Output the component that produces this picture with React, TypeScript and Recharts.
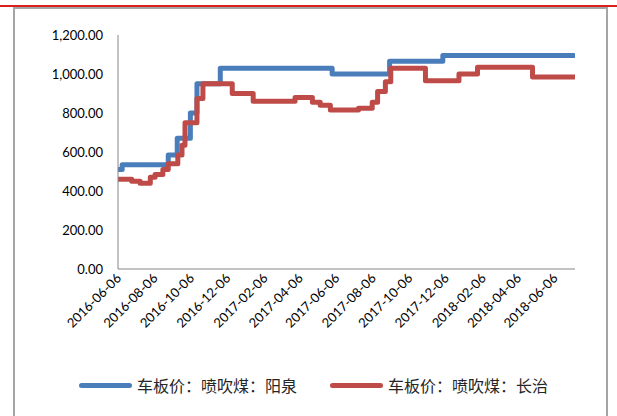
import React from "react";
import { Line, LineChart, XAxis, YAxis } from "recharts";

// 车板价：喷吹煤：阳泉 (change points, stepAfter)
const yqDates = [
  "2016-06-06", "2016-06-13", "2016-08-29", "2016-09-13", "2016-10-05", "2016-10-16",
  "2016-11-24", "2017-05-30", "2017-09-03", "2017-12-01", "2018-07-08",
];
const yqValues = [510, 535, 585, 670, 800, 950, 1030, 1000, 1065, 1095, 1095];

// 车板价：喷吹煤：长治
const czDates = [
  "2016-06-06", "2016-06-29", "2016-07-13", "2016-07-30", "2016-08-07", "2016-08-20",
  "2016-08-29", "2016-09-14", "2016-09-21", "2016-09-26", "2016-10-16", "2016-10-26",
  "2016-12-14", "2017-01-18", "2017-03-29", "2017-04-27", "2017-05-10", "2017-05-27",
  "2017-07-13", "2017-08-05", "2017-08-14", "2017-08-27", "2017-09-05", "2017-11-02",
  "2017-12-28", "2018-01-28", "2018-04-30", "2018-07-08",
];
const czValues = [
  460, 450, 440, 470, 485, 510, 540, 585, 635, 750, 875, 950, 900, 860, 880, 855, 840,
  815, 825, 855, 910, 960, 1030, 965, 1000, 1035, 985, 985,
];

const xTicks = [
  "2016-06-06", "2016-08-06", "2016-10-06", "2016-12-06", "2017-02-06", "2017-04-06",
  "2017-06-06", "2017-08-06", "2017-10-06", "2017-12-06", "2018-02-06", "2018-04-06",
  "2018-06-06",
];
const yTicks = [0, 200, 400, 600, 800, 1000, 1200];

const seriesNames = ["车板价：喷吹煤：阳泉", "车板价：喷吹煤：长治"];
const colors = ["#4a7ebb", "#be4b48"];

const toTime = (d: string) => Date.parse(d + "T00:00:00Z");
const fmtDate = (t: number) => new Date(t).toISOString().slice(0, 10);

const yqData = yqDates.map((d, i) => ({ t: toTime(d), v: yqValues[i] }));
const czData = czDates.map((d, i) => ({ t: toTime(d), v: czValues[i] }));

const font = "Lato, 'Open Sans', sans-serif";

const XTick = ({ x, y, payload }: any) => (
  <text
    x={x + 4}
    y={y + 8}
    transform={`rotate(-45 ${x + 4} ${y + 8})`}
    textAnchor="end"
    fontSize={13}
    fontFamily={font}
    fill="#000"
  >
    {fmtDate(payload.value)}
  </text>
);

export default function App() {
  return (
    <div style={{ position: "fixed", left: 0, top: 0, width: 617, height: 416, background: "#fff", overflow: "hidden" }}>
      <div style={{ position: "absolute", left: 0, top: 5, width: 617, height: 2, background: "#d9201f" }} />
      <div
        style={{
          position: "absolute",
          left: 13,
          top: 7,
          width: 591,
          height: 420,
          border: "2px solid #a5a5a5",
        }}
      />
      <div style={{ position: "absolute", left: 0, top: 0 }}>
        <LineChart width={617} height={416} data={yqData} margin={{ top: 35, right: 42, left: 0, bottom: 67 }}>
          <XAxis
            dataKey="t"
            type="number"
            domain={[toTime("2016-06-06"), toTime("2018-07-10")]}
            ticks={xTicks.map(toTime)}
            tick={<XTick />}
            tickLine={false}
            tickSize={0}
            height={80}
            interval={0}
            axisLine={{ stroke: "#868686", strokeWidth: 1 }}
            allowDataOverflow
          />
          <YAxis
            width={118}
            domain={[0, 1200]}
            ticks={yTicks}
            tickLine={false}
            tickSize={0}
            tickMargin={15}
            interval={0}
            axisLine={{ stroke: "#868686", strokeWidth: 1 }}
            tick={{ fontSize: 13, fill: "#000", fontFamily: font }}
            tickFormatter={(v: number) =>
              v.toLocaleString("en-US", { minimumFractionDigits: 2, maximumFractionDigits: 2 })
            }
          />
          <Line
            data={yqData}
            dataKey="v"
            type="stepAfter"
            stroke={colors[0]}
            strokeWidth={5}
            strokeLinejoin="round"
            strokeLinecap="round"
            dot={false}
            isAnimationActive={false}
          />
          <Line
            data={czData}
            dataKey="v"
            type="stepAfter"
            stroke={colors[1]}
            strokeWidth={5}
            strokeLinejoin="round"
            strokeLinecap="round"
            dot={false}
            isAnimationActive={false}
          />
        </LineChart>
      </div>
      {seriesNames.map((name, i) => (
        <div
          key={name}
          style={{
            position: "absolute",
            left: i === 0 ? 79 : 330,
            top: 373,
            display: "flex",
            alignItems: "center",
            fontFamily: "'Noto Sans CJK SC', sans-serif",
            fontSize: 16,
            color: "#262626",
            whiteSpace: "nowrap",
          }}
        >
          <span style={{ display: "inline-block", width: 53, height: 5, borderRadius: 3, background: colors[i], marginRight: 5 }} />
          {name}
        </div>
      ))}
    </div>
  );
}
